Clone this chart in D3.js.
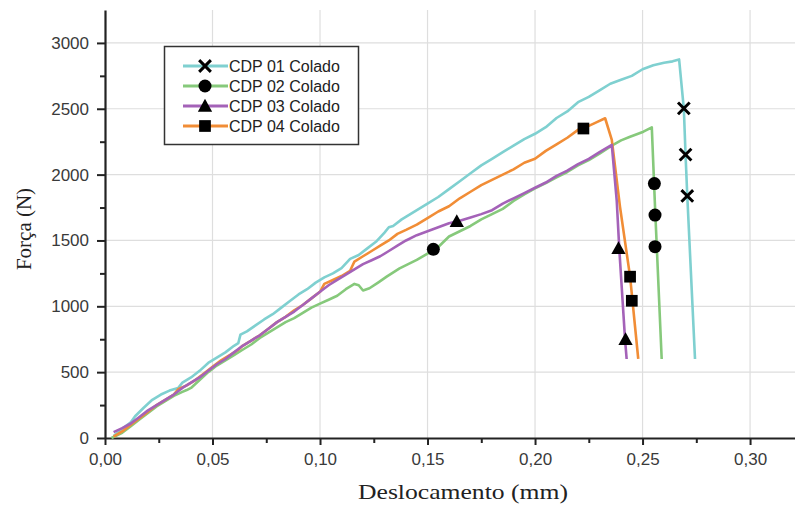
<!DOCTYPE html>
<html>
<head>
<meta charset="utf-8">
<script src="https://cdn.jsdelivr.net/npm/d3@7"></script>
<style>
  html, body { margin: 0; padding: 0; background: #fff; }
  svg { display: block; }
</style>
</head>
<body>
<div id="chart"></div>
<script>
// ---------- DATA ----------
const seriesNames = ["CDP 01 Colado", "CDP 02 Colado", "CDP 03 Colado", "CDP 04 Colado"];
const seriesColors = ["#7fd0d0", "#86c97b", "#a462b8", "#f18d36"];
const seriesMarkers = ["cross", "circle", "triangle", "square"];

const xTicks = [0, 0.05, 0.10, 0.15, 0.20, 0.25, 0.30];
const xTickLabels = ["0,00", "0,05", "0,10", "0,15", "0,20", "0,25", "0,30"];
const yTicks = [0, 500, 1000, 1500, 2000, 2500, 3000];
const yTickLabels = ["0", "500", "1000", "1500", "2000", "2500", "3000"];

// CDP 01 Colado
const cdp01 = [
  [0.004,15],[0.008,70],[0.012,120],[0.014,165],[0.018,230],[0.022,290],[0.026,330],[0.030,360],
  [0.034,380],[0.036,420],[0.040,460],[0.044,510],[0.048,570],[0.052,610],[0.056,650],[0.060,700],
  [0.062,720],[0.063,785],[0.066,810],[0.070,855],[0.074,900],[0.078,940],[0.082,990],[0.086,1040],
  [0.090,1090],[0.094,1130],[0.098,1180],[0.102,1220],[0.106,1250],[0.110,1290],[0.114,1360],
  [0.118,1390],[0.122,1440],[0.126,1490],[0.130,1560],[0.132,1600],[0.134,1610],[0.138,1660],
  [0.142,1700],[0.146,1740],[0.150,1780],[0.155,1830],[0.160,1890],[0.165,1950],[0.170,2010],
  [0.175,2070],[0.180,2120],[0.185,2170],[0.190,2220],[0.195,2270],[0.200,2310],[0.205,2360],
  [0.210,2430],[0.215,2480],[0.220,2550],[0.225,2590],[0.230,2640],[0.235,2690],[0.240,2720],
  [0.245,2750],[0.250,2800],[0.255,2830],[0.260,2850],[0.264,2860],[0.267,2875],
  [0.2692,2500],[0.2700,2150],[0.2708,1840],[0.2744,600]
];
// CDP 02 Colado
const cdp02 = [
  [0.003,0],[0.008,40],[0.012,90],[0.016,140],[0.020,190],[0.024,240],[0.028,280],[0.032,320],
  [0.036,350],[0.038,364],[0.040,380],[0.044,440],[0.048,500],[0.052,550],[0.056,590],[0.060,630],
  [0.064,670],[0.068,710],[0.072,760],[0.076,800],[0.080,840],[0.084,880],[0.088,910],[0.092,950],
  [0.096,990],[0.100,1020],[0.104,1050],[0.108,1080],[0.112,1130],[0.116,1170],[0.118,1160],
  [0.120,1120],[0.123,1137],[0.127,1180],[0.131,1225],[0.137,1288],[0.141,1320],[0.145,1352],
  [0.150,1400],[0.155,1450],[0.160,1530],[0.165,1570],[0.170,1610],[0.175,1660],[0.180,1700],
  [0.185,1740],[0.190,1800],[0.195,1850],[0.200,1895],[0.205,1935],[0.210,1980],[0.215,2020],
  [0.220,2070],[0.225,2110],[0.230,2160],[0.2357,2220],[0.240,2260],[0.2442,2288],[0.2504,2326],
  [0.2543,2359],[0.2558,1757],[0.2589,600]
];
// CDP 03 Colado
const cdp03 = [
  [0.004,45],[0.008,75],[0.012,110],[0.016,160],[0.020,210],[0.024,250],[0.028,290],[0.032,330],
  [0.036,380],[0.040,420],[0.044,460],[0.048,510],[0.052,560],[0.056,600],[0.060,650],[0.064,700],
  [0.068,740],[0.072,780],[0.076,830],[0.080,880],[0.084,920],[0.088,960],[0.092,1010],[0.096,1060],
  [0.100,1110],[0.104,1160],[0.108,1200],[0.112,1240],[0.116,1280],[0.120,1320],[0.124,1350],
  [0.128,1380],[0.132,1420],[0.136,1460],[0.140,1500],[0.145,1540],[0.150,1570],[0.155,1600],
  [0.160,1630],[0.165,1650],[0.170,1675],[0.175,1700],[0.180,1730],[0.185,1780],[0.190,1820],
  [0.195,1860],[0.200,1900],[0.205,1940],[0.210,1990],[0.215,2030],[0.220,2080],[0.225,2120],
  [0.230,2170],[0.2357,2225],[0.238,1800],[0.2392,1430],[0.2419,740],[0.2426,600]
];
// CDP 04 Colado
const cdp04 = [
  [0.004,10],[0.008,50],[0.012,100],[0.016,150],[0.020,200],[0.024,250],[0.028,290],[0.032,330],
  [0.034,370],[0.038,400],[0.042,440],[0.046,490],[0.050,540],[0.054,590],[0.058,630],[0.062,670],
  [0.064,700],[0.068,740],[0.072,780],[0.076,830],[0.080,880],[0.084,920],[0.088,970],[0.092,1010],
  [0.096,1060],[0.100,1110],[0.102,1170],[0.106,1200],[0.110,1230],[0.114,1270],[0.116,1340],
  [0.120,1380],[0.124,1420],[0.128,1460],[0.132,1500],[0.136,1550],[0.140,1580],[0.145,1620],
  [0.150,1670],[0.155,1720],[0.160,1760],[0.165,1820],[0.170,1870],[0.175,1920],[0.180,1960],
  [0.185,2000],[0.190,2040],[0.195,2090],[0.200,2120],[0.205,2180],[0.210,2230],[0.215,2280],
  [0.220,2340],[0.225,2370],[0.229,2400],[0.2326,2428],[0.2357,2263],[0.2395,1757],[0.2442,1225],
  [0.248,600]
];

// marker positions (sparse symbols on each curve)
const cdp01Markers = [[0.2692,2503],[0.2700,2152],[0.2708,1838]];
const cdp02Markers = [[0.1527,1433],[0.2555,1932],[0.2558,1693],[0.2558,1453]];
const cdp03Markers = [[0.1636,1645],[0.2388,1440],[0.2421,749]];
const cdp04Markers = [[0.2225,2350],[0.2442,1225],[0.2450,1042]];

const seriesData = [cdp01, cdp02, cdp03, cdp04];
const markerData = [cdp01Markers, cdp02Markers, cdp03Markers, cdp04Markers];
const drawOrder = [1, 0, 3, 2];

// ---------- LAYOUT ----------
const W = 795, H = 507;
const margin = { left: 105, top: 10, right: 0, bottom: 69 };
const innerW = W - margin.left - margin.right;
const innerH = H - margin.top - margin.bottom;

const x = d3.scaleLinear().domain([0, 0.3209]).range([0, innerW]);
const y = d3.scaleLinear().domain([0, 3250]).range([innerH, 0]);

const svg = d3.select("#chart").append("svg")
  .attr("width", W).attr("height", H);
const g = svg.append("g").attr("transform", `translate(${margin.left},${margin.top})`);

// grid
g.append("g").selectAll("line.vg").data(xTicks.filter(d => d > 0)).join("line")
  .attr("x1", d => x(d)).attr("x2", d => x(d))
  .attr("y1", 0).attr("y2", innerH)
  .attr("stroke", "#dedede").attr("stroke-width", 1.2);
g.append("g").selectAll("line.hg").data(yTicks.filter(d => d > 0)).join("line")
  .attr("x1", 0).attr("x2", innerW)
  .attr("y1", d => y(d)).attr("y2", d => y(d))
  .attr("stroke", "#dedede").attr("stroke-width", 1.2);

// axes
const xMinor = d3.range(0.025, 0.32, 0.05);
const yMinor = d3.range(250, 3250, 500);

g.append("g").attr("transform", `translate(0,${innerH})`)
  .call(d3.axisBottom(x).tickValues(xTicks).tickFormat((d, i) => xTickLabels[i]).tickSize(7).tickSizeOuter(0).tickPadding(8));
g.append("g").attr("transform", `translate(0,${innerH})`)
  .call(d3.axisBottom(x).tickValues(xMinor).tickFormat("").tickSize(5).tickSizeOuter(0))
  .select(".domain").remove();
g.append("g")
  .call(d3.axisLeft(y).tickValues(yTicks).tickFormat((d, i) => yTickLabels[i]).tickSize(8).tickSizeOuter(0).tickPadding(8));
g.append("g")
  .call(d3.axisLeft(y).tickValues(yMinor).tickFormat("").tickSize(5).tickSizeOuter(0))
  .select(".domain").remove();

svg.selectAll(".tick line").attr("stroke", "#222").attr("stroke-width", 2);
svg.selectAll(".domain").attr("stroke", "#222").attr("stroke-width", 2.2);
svg.selectAll(".tick text")
  .attr("font-family", "Liberation Sans, Arial, sans-serif")
  .attr("font-size", 17).attr("fill", "#3a3a3a");

// lines
const line = d3.line().x(d => x(d[0])).y(d => y(d[1]));
drawOrder.forEach(i => {
  g.append("path").datum(seriesData[i])
    .attr("d", line).attr("fill", "none")
    .attr("stroke", seriesColors[i]).attr("stroke-width", 2.6)
    .attr("stroke-linejoin", "round");
});

// marker drawing
function drawMarker(sel, type, cx, cy, s) {
  if (type === "cross") {
    const h = s * 0.45;
    sel.append("path")
      .attr("d", `M${cx - h},${cy - h}L${cx + h},${cy + h}M${cx - h},${cy + h}L${cx + h},${cy - h}`)
      .attr("stroke", "#000").attr("stroke-width", 3).attr("fill", "none");
  } else if (type === "circle") {
    sel.append("circle").attr("cx", cx).attr("cy", cy).attr("r", s * 0.5).attr("fill", "#000");
  } else if (type === "triangle") {
    const h = s * 0.55;
    sel.append("path")
      .attr("d", `M${cx},${cy - h}L${cx + h},${cy + h * 0.8}L${cx - h},${cy + h * 0.8}Z`)
      .attr("fill", "#000");
  } else if (type === "square") {
    const h = s * 0.45;
    sel.append("rect").attr("x", cx - h).attr("y", cy - h).attr("width", 2 * h).attr("height", 2 * h).attr("fill", "#000");
  }
}
markerData.forEach((pts, i) => {
  pts.forEach(p => drawMarker(g, seriesMarkers[i], x(p[0]), y(p[1]), 13));
});

// legend
const leg = svg.append("g");
leg.append("rect").attr("x", 164.5).attr("y", 46.5).attr("width", 194).attr("height", 98)
  .attr("fill", "#fff").attr("stroke", "#333").attr("stroke-width", 1.5);
seriesNames.forEach((name, i) => {
  const ly = 66 + i * 20;
  leg.append("line").attr("x1", 183).attr("x2", 228).attr("y1", ly).attr("y2", ly)
    .attr("stroke", seriesColors[i]).attr("stroke-width", 3);
  drawMarker(leg, seriesMarkers[i], 205, ly, 13);
  leg.append("text").attr("x", 229).attr("y", ly + 6).text(name)
    .attr("font-family", "Liberation Sans, Arial, sans-serif")
    .attr("font-size", 16).attr("fill", "#222");
});

// axis titles
svg.append("text").attr("x", 463).attr("y", 499).attr("text-anchor", "middle")
  .attr("font-family", "Liberation Serif, Times New Roman, serif").attr("font-size", 22)
  .attr("textLength", 210).attr("lengthAdjust", "spacingAndGlyphs")
  .attr("fill", "#222").text("Deslocamento (mm)");
svg.append("text").attr("transform", "translate(31,229) rotate(-90)").attr("text-anchor", "middle")
  .attr("font-family", "Liberation Serif, Times New Roman, serif").attr("font-size", 21)
  .attr("fill", "#222").text("Força (N)");
</script>
</body>
</html>
